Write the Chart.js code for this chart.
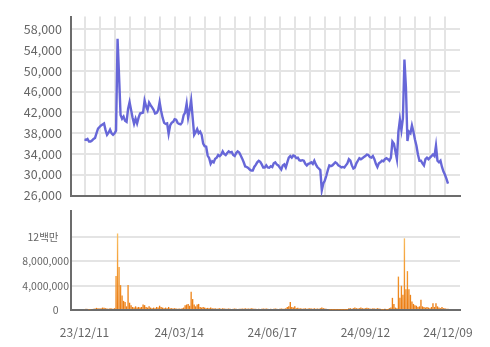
<!DOCTYPE html>
<html>
<head>
<meta charset="utf-8">
<script src="https://cdn.jsdelivr.net/npm/chart.js@4.4.1/dist/chart.umd.min.js"></script>
<style>
  html, body { margin: 0; padding: 0; background: #fff; }
  #wrap { position: relative; width: 490px; height: 347px; overflow: hidden; }
  #cPrice { position: absolute; left: 0; top: 0; }
  #cVol { position: absolute; left: 0; top: 200px; }
</style>
</head>
<body>
<div id="wrap">
  <canvas id="cPrice" width="490" height="212"></canvas>
  <canvas id="cVol" width="490" height="147"></canvas>
</div>
<script>
// 종가 (원), 거래일 순서
const prices = [
  36800,36700,36900,36400,36400,36600,36900,37100,38000,38900,
  39200,39500,39700,39900,38600,37700,38100,38700,38000,37700,
  38000,38500,56200,49000,41500,40800,41200,40400,40200,42700,
  44000,42500,41000,39800,40800,39900,41000,41800,41900,42000,
  44300,43200,42500,43900,43400,43000,42500,41800,41900,42400,
  44000,42300,41000,40000,39800,39900,37900,39500,40000,40200,
  40700,40600,40000,39800,39700,40100,41500,42000,43700,41000,
  42500,44300,41000,37700,38200,38800,38000,38300,37700,36000,
  35500,35400,33700,33200,32100,32600,32400,33100,33300,33800,
  33600,33900,34500,34000,33800,34200,34500,34300,34400,33800,
  33600,34200,34500,34300,33700,33100,32400,31600,31500,31300,
  31000,30800,30800,31500,31900,32400,32700,32500,32000,31400,
  31400,31800,31400,31350,31650,31500,32200,32400,32000,31800,
  31400,31000,31800,32000,31400,32400,33300,33600,33300,33700,
  33600,33200,33300,32800,32700,32800,32700,32100,31800,32100,
  32200,32400,32100,32700,32000,31500,31200,30900,27000,28300,
  28900,29800,30900,31800,31650,31800,32100,32400,32200,31800,
  31650,31400,31500,31400,31800,32200,33000,32700,31800,31200,
  31400,32200,32700,33200,33000,33200,33400,33600,33900,33800,
  33400,33300,33600,33000,32100,31500,32200,32400,32700,32600,
  33000,33200,33000,32700,33300,36400,36000,34500,33000,38300,
  40600,38600,40900,52200,46800,36500,38300,38000,39500,38300,
  36800,35600,33900,32700,32700,32200,31800,33000,33300,33000,
  33300,33600,33900,33600,35600,32700,32400,32700,31500,30600,
  30000,29200,28300
];

// 거래량 (백만 주)
const volumes = [
  0.15,0.2,0.18,0.1,0.12,0.15,0.2,0.25,0.35,0.3,
  0.25,0.3,0.4,0.35,0.3,0.25,0.2,0.3,0.25,0.2,
  0.3,5.6,12.6,7.1,4.1,2.4,1.5,1.3,0.6,4.1,
  1.2,0.8,0.5,0.4,0.6,0.4,0.5,0.4,0.5,0.9,
  0.8,0.5,0.4,0.6,0.4,0.3,0.4,0.3,0.5,0.4,
  0.7,0.5,0.4,0.3,0.4,0.3,0.5,0.3,0.3,0.25,
  0.3,0.25,0.2,0.25,0.2,0.3,0.4,0.8,0.9,1.0,
  0.7,3.0,1.8,0.9,0.6,0.9,1.0,0.5,0.4,0.5,
  0.4,0.3,0.35,0.3,0.4,0.3,0.25,0.3,0.2,0.25,
  0.3,0.2,0.3,0.25,0.2,0.2,0.25,0.2,0.15,0.2,
  0.25,0.2,0.15,0.2,0.2,0.25,0.2,0.3,0.2,0.25,
  0.2,0.3,0.25,0.2,0.2,0.15,0.2,0.15,0.2,0.25,
  0.2,0.25,0.2,0.15,0.2,0.15,0.2,0.25,0.2,0.15,
  0.2,0.25,0.2,0.2,0.3,0.5,0.6,1.3,0.5,0.4,
  0.6,0.3,0.35,0.25,0.3,0.2,0.25,0.3,0.2,0.25,
  0.3,0.25,0.2,0.3,0.2,0.25,0.2,0.3,0.4,0.3,
  0.25,0.2,0.15,0.1,0.05,0.05,0.05,0.05,0.05,0.05,
  0.05,0.05,0.05,0.05,0.05,0.05,0.3,0.3,0.2,0.3,
  0.4,0.3,0.25,0.3,0.4,0.3,0.25,0.3,0.35,0.3,
  0.25,0.2,0.3,0.25,0.2,0.3,0.25,0.2,0.05,0.05,
  0.2,0.05,0.05,0.3,0.4,2.0,1.0,0.4,0.3,5.5,
  2.0,4.0,2.5,11.8,3.4,6.4,3.4,2.5,1.4,1.0,
  0.8,0.7,0.5,0.6,1.7,0.6,0.5,0.4,0.5,0.4,
  0.3,0.5,1.1,0.5,1.1,0.6,0.4,0.3,0.5,0.3,
  0.3,0.2,0.2
];

// 날짜 눈금 (거래일 인덱스)
const dateTickIdx = [0, 63, 125, 187, 242];
const dateTickText = ['23/12/11', '24/03/14', '24/06/17', '24/09/12', '24/12/09'];

// 세로 격자 (10거래일 간격)
const gridIdx = [0,10,20,30,40,50,60,70,80,90,100,110,120,130,140,150,160,170,180,190,200,210,220,230,240];

const priceTicks = [26000, 30000, 34000, 38000, 42000, 46000, 50000, 54000, 58000];
const volTicks = [0, 4, 8, 12];
// 원본처럼 '0', '12백만' 은 안쪽으로 들어가 있음 (전각 공백)
const volTickText = ['0\u3000', '4,000,000', '8,000,000', '12백만\u3000'];

const FONT = "'Noto Sans CJK KR', 'Noto Sans', sans-serif";
const GRID = '#e4e4e4';
const AXIS = '#6c6c6c';
const TEXT = '#666';

// 가격 차트
new Chart(document.getElementById('cPrice'), {
  type: 'line',
  data: {
    datasets: [{
      data: prices.map((v, i) => ({ x: i, y: v })),
      borderColor: '#6767d8',
      borderWidth: 2.4,
      pointRadius: 0,
      tension: 0
    }]
  },
  options: {
    responsive: false,
    animation: false,
    layout: { padding: { top: 5, right: 30, bottom: 12, left: 0 } },
    plugins: { legend: { display: false }, tooltip: { enabled: false } },
    scales: {
      x: {
        type: 'linear', min: -9, max: 250, offset: false,
        afterBuildTicks: s => { s.ticks = gridIdx.map(v => ({ value: v })); },
        afterFit: s => { s.height = 0; },
        ticks: { display: false },
        grid: { color: GRID, lineWidth: 2, drawTicks: false },
        border: { display: true, color: AXIS, width: 2 }
      },
      y: {
        min: 26000, max: 60500,
        afterBuildTicks: s => { s.ticks = priceTicks.map(v => ({ value: v })); },
        afterFit: s => { s.width = 71; },
        ticks: {
          color: TEXT, padding: 9,
          font: { family: FONT, size: 12.5 },
          callback: v => v.toLocaleString('en-US')
        },
        grid: { color: GRID, lineWidth: 2, drawTicks: false },
        border: { display: true, color: AXIS, width: 2 }
      }
    }
  }
});

// 거래량 차트
new Chart(document.getElementById('cVol'), {
  type: 'bar',
  data: {
    datasets: [{
      data: volumes.map((v, i) => ({ x: i, y: v })),
      backgroundColor: ctx => {
        const a = ctx.chart.chartArea;
        if (!a) return '#ef8a1e';
        const g = ctx.chart.ctx.createLinearGradient(0, a.top, 0, a.bottom);
        g.addColorStop(0, '#fdd98a');
        g.addColorStop(0.5, '#f5a23a');
        g.addColorStop(1, '#ea7a10');
        return g;
      },
      barPercentage: 0.9,
      categoryPercentage: 1
    }]
  },
  options: {
    responsive: false,
    animation: false,
    layout: { padding: { top: 11, right: 30, bottom: 0, left: 0 } },
    plugins: { legend: { display: false }, tooltip: { enabled: false } },
    scales: {
      x: {
        type: 'linear', min: -9, max: 250, offset: false,
        afterBuildTicks: s => { s.ticks = dateTickIdx.map(v => ({ value: v })); },
        afterFit: s => { s.height = 37; },
        ticks: {
          color: TEXT, padding: 15, autoSkip: false, maxRotation: 0,
          font: { family: FONT, size: 12 },
          callback: v => dateTickText[dateTickIdx.indexOf(v)]
        },
        grid: { display: false, offset: false, drawTicks: false },
        border: { display: true, color: AXIS, width: 2 }
      },
      y: {
        min: 0, max: 16.3,
        afterBuildTicks: s => { s.ticks = volTicks.map(v => ({ value: v })); },
        afterFit: s => { s.width = 71; },
        ticks: {
          color: TEXT, padding: 2,
          font: { family: FONT, size: 10.5 },
          callback: v => volTickText[volTicks.indexOf(v)]
        },
        grid: { color: GRID, lineWidth: 2, drawTicks: false },
        border: { display: true, color: AXIS, width: 2 }
      }
    }
  }
});
</script>
</body>
</html>
